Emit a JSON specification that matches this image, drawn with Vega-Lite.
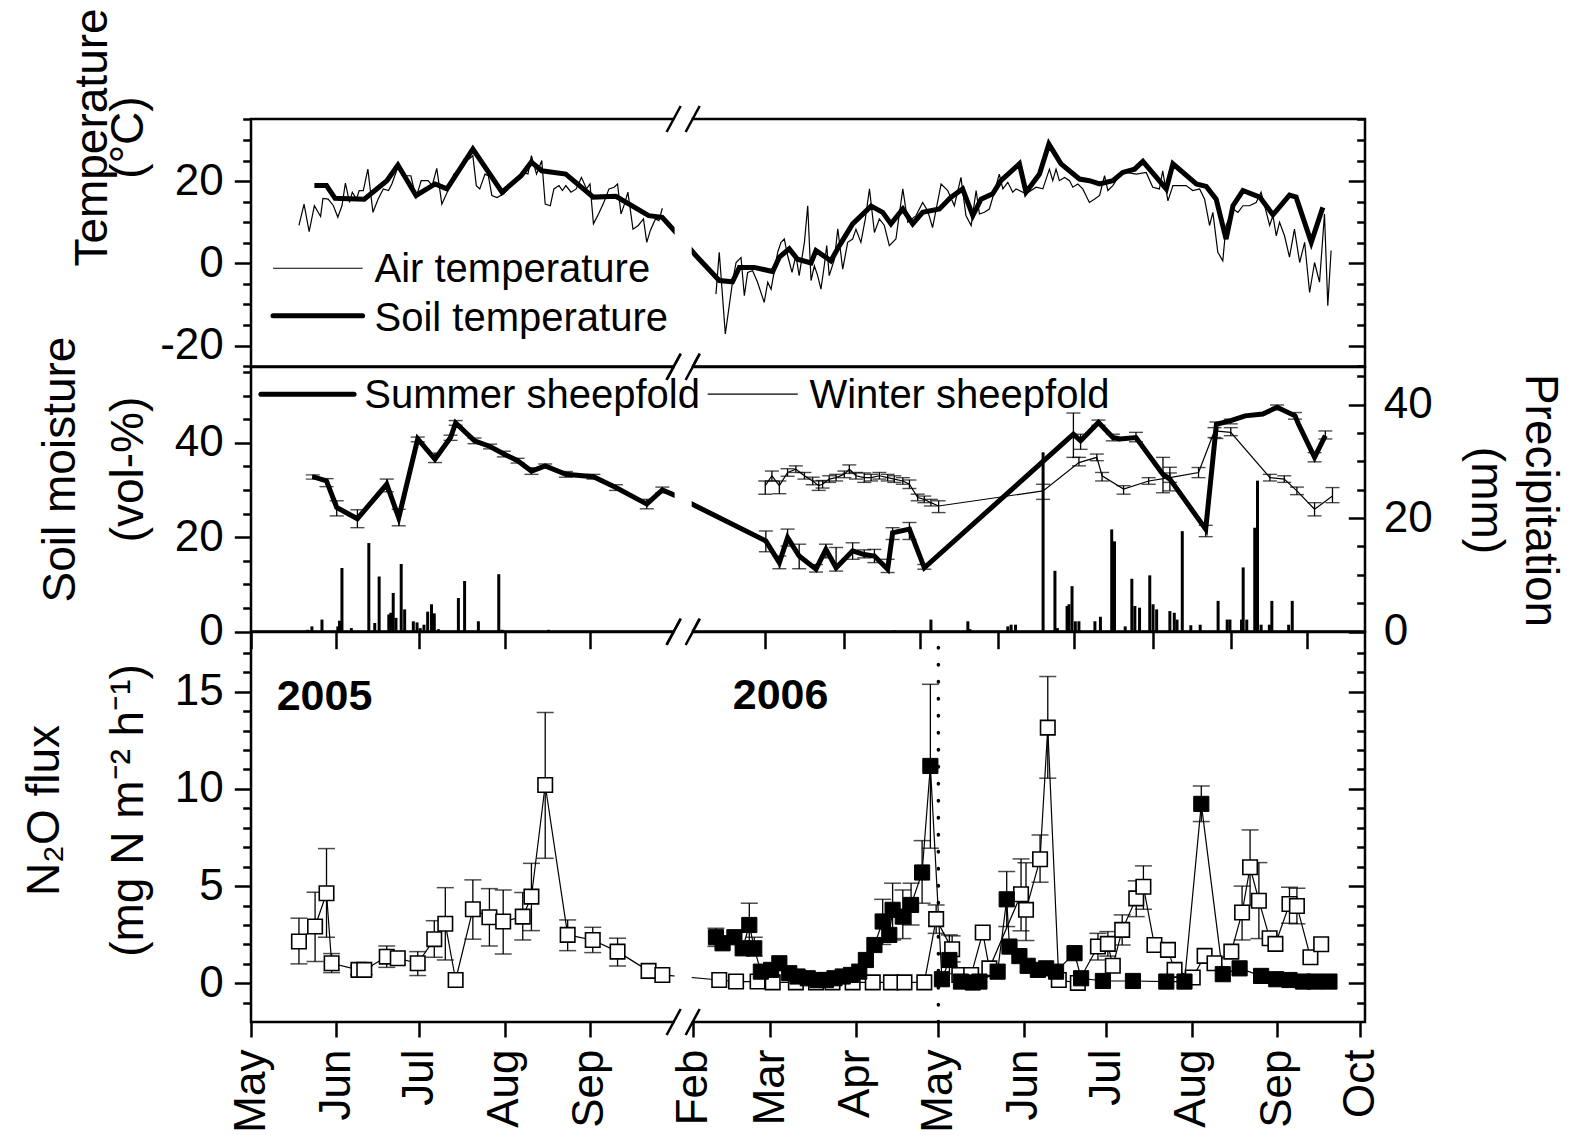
{
"$schema":"https://vega.github.io/schema/vega-lite/v6.json",
"background":"white",
"padding":{"left":20,"top":6,"right":0,"bottom":0},
"autosize":{"type":"pad"},
"bounds":"flush",
"spacing":0,
"config":{"font":"Liberation Sans","view":{"stroke":"black","strokeWidth":2.5},
"axis":{"labelFont":"Liberation Sans","titleFont":"Liberation Sans","labelFontSize":44,"titleFontSize":46,"titleFontWeight":"normal","labelColor":"black","titleColor":"black","tickColor":"black","tickWidth":2.5,"domain":false,"grid":false,"labelOverlap":false,"labelFlush":false}},
"datasets":{
"air":[{"d":17.4,"v":9.2,"yr":2005},{"d":19.25,"v":14.4,"yr":2005},{"d":21.1,"v":7.7,"yr":2005},{"d":23.0,"v":14.0,"yr":2005},{"d":25.25,"v":11.4,"yr":2005},{"d":26.1,"v":15.8,"yr":2005},{"d":28.0,"v":15.6,"yr":2005},{"d":29.9,"v":14.0,"yr":2005},{"d":31.5,"v":11.2,"yr":2005},{"d":33.0,"v":14.0,"yr":2005},{"d":34.25,"v":19.5,"yr":2005},{"d":35.75,"v":14.8,"yr":2005},{"d":36.75,"v":17.3,"yr":2005},{"d":38.25,"v":15.6,"yr":2005},{"d":39.25,"v":17.7,"yr":2005},{"d":40.75,"v":17.7,"yr":2005},{"d":42.4,"v":22.9,"yr":2005},{"d":44.25,"v":12.4,"yr":2005},{"d":46.1,"v":15.6,"yr":2005},{"d":48.0,"v":18.1,"yr":2005},{"d":49.9,"v":17.7,"yr":2005},{"d":51.1,"v":19.3,"yr":2005},{"d":53.25,"v":23.3,"yr":2005},{"d":54.9,"v":21.3,"yr":2005},{"d":58.0,"v":21.3,"yr":2005},{"d":59.9,"v":16.0,"yr":2005},{"d":61.75,"v":20.1,"yr":2005},{"d":64.25,"v":20.1,"yr":2005},{"d":65.75,"v":18.9,"yr":2005},{"d":67.4,"v":23.1,"yr":2005},{"d":69.25,"v":14.4,"yr":2005},{"d":71.75,"v":18.1,"yr":2005},{"d":73.6,"v":21.7,"yr":2005},{"d":75.5,"v":22.1,"yr":2005},{"d":77.4,"v":25.4,"yr":2005},{"d":79.25,"v":25.4,"yr":2005},{"d":80.5,"v":26.2,"yr":2005},{"d":81.75,"v":18.9,"yr":2005},{"d":83.0,"v":18.1,"yr":2005},{"d":84.9,"v":21.7,"yr":2005},{"d":86.1,"v":21.3,"yr":2005},{"d":87.4,"v":16.5,"yr":2005},{"d":89.25,"v":16.0,"yr":2005},{"d":91.75,"v":16.9,"yr":2005},{"d":94.25,"v":18.9,"yr":2005},{"d":96.75,"v":20.9,"yr":2005},{"d":98.6,"v":22.1,"yr":2005},{"d":100.5,"v":21.7,"yr":2005},{"d":101.75,"v":26.2,"yr":2005},{"d":103.6,"v":21.7,"yr":2005},{"d":105.5,"v":25.0,"yr":2005},{"d":106.75,"v":14.4,"yr":2005},{"d":108.6,"v":14.0,"yr":2005},{"d":109.9,"v":18.1,"yr":2005},{"d":111.75,"v":18.9,"yr":2005},{"d":113.0,"v":17.7,"yr":2005},{"d":114.25,"v":18.9,"yr":2005},{"d":116.1,"v":17.3,"yr":2005},{"d":118.0,"v":18.1,"yr":2005},{"d":119.9,"v":20.9,"yr":2005},{"d":121.75,"v":18.1,"yr":2005},{"d":123.0,"v":19.3,"yr":2005},{"d":124.25,"v":9.6,"yr":2005},{"d":126.1,"v":12.0,"yr":2005},{"d":128.0,"v":14.8,"yr":2005},{"d":129.9,"v":18.1,"yr":2005},{"d":131.75,"v":18.5,"yr":2005},{"d":133.0,"v":19.3,"yr":2005},{"d":134.25,"v":12.0,"yr":2005},{"d":135.5,"v":14.4,"yr":2005},{"d":136.75,"v":17.3,"yr":2005},{"d":138.6,"v":8.3,"yr":2005},{"d":140.5,"v":9.2,"yr":2005},{"d":142.4,"v":10.8,"yr":2005},{"d":143.6,"v":5.1,"yr":2005},{"d":144.9,"v":8.0,"yr":2005},{"d":146.75,"v":10.8,"yr":2005},{"d":148.0,"v":10.4,"yr":2005},{"d":149.25,"v":13.4,"yr":2005},
{"d":168.7,"v":-7.5,"yr":2006},{"d":169.9,"v":2.7,"yr":2006},{"d":172.1,"v":-17.2,"yr":2006},{"d":174.7,"v":-4.6,"yr":2006},{"d":176.0,"v":0.2,"yr":2006},{"d":177.8,"v":1.4,"yr":2006},{"d":179.0,"v":-7.9,"yr":2006},{"d":180.2,"v":-2.2,"yr":2006},{"d":182.0,"v":-1.8,"yr":2006},{"d":183.8,"v":-4.6,"yr":2006},{"d":186.2,"v":-9.5,"yr":2006},{"d":187.5,"v":-4.6,"yr":2006},{"d":188.7,"v":-6.3,"yr":2006},{"d":191.1,"v":2.7,"yr":2006},{"d":192.3,"v":5.1,"yr":2006},{"d":193.5,"v":5.9,"yr":2006},{"d":194.7,"v":1.9,"yr":2006},{"d":196.3,"v":-2.2,"yr":2006},{"d":197.7,"v":1.9,"yr":2006},{"d":198.9,"v":-3.0,"yr":2006},{"d":200.8,"v":5.1,"yr":2006},{"d":202.0,"v":14.0,"yr":2006},{"d":203.2,"v":-4.2,"yr":2006},{"d":204.4,"v":-0.6,"yr":2006},{"d":205.6,"v":-3.0,"yr":2006},{"d":206.8,"v":-6.3,"yr":2006},{"d":208.0,"v":-0.6,"yr":2006},{"d":208.9,"v":4.3,"yr":2006},{"d":209.8,"v":-3.0,"yr":2006},{"d":211.7,"v":1.0,"yr":2006},{"d":212.9,"v":8.4,"yr":2006},{"d":214.7,"v":-1.4,"yr":2006},{"d":216.5,"v":5.1,"yr":2006},{"d":218.3,"v":5.9,"yr":2006},{"d":219.5,"v":8.3,"yr":2006},{"d":221.3,"v":5.1,"yr":2006},{"d":222.9,"v":10.8,"yr":2006},{"d":224.4,"v":18.1,"yr":2006},{"d":226.2,"v":7.5,"yr":2006},{"d":228.0,"v":10.8,"yr":2006},{"d":229.8,"v":9.2,"yr":2006},{"d":231.6,"v":4.3,"yr":2006},{"d":234.0,"v":5.9,"yr":2006},{"d":236.5,"v":18.1,"yr":2006},{"d":238.3,"v":10.0,"yr":2006},{"d":241.3,"v":11.6,"yr":2006},{"d":243.7,"v":14.8,"yr":2006},{"d":245.5,"v":12.8,"yr":2006},{"d":247.3,"v":8.7,"yr":2006},{"d":250.4,"v":19.3,"yr":2006},{"d":252.8,"v":17.7,"yr":2006},{"d":255.2,"v":14.0,"yr":2006},{"d":257.6,"v":20.9,"yr":2006},{"d":259.4,"v":11.6,"yr":2006},{"d":261.3,"v":9.2,"yr":2006},{"d":263.1,"v":17.7,"yr":2006},{"d":264.3,"v":12.0,"yr":2006},{"d":266.1,"v":12.4,"yr":2006},{"d":267.9,"v":13.2,"yr":2006},{"d":269.7,"v":17.3,"yr":2006},{"d":271.5,"v":21.7,"yr":2006},{"d":272.8,"v":18.1,"yr":2006},{"d":274.6,"v":19.7,"yr":2006},{"d":276.4,"v":17.3,"yr":2006},{"d":277.6,"v":18.1,"yr":2006},{"d":281.2,"v":16.9,"yr":2006},{"d":284.9,"v":18.5,"yr":2006},{"d":287.3,"v":18.1,"yr":2006},{"d":289.7,"v":22.9,"yr":2006},{"d":290.9,"v":20.1,"yr":2006},{"d":292.1,"v":22.9,"yr":2006},{"d":293.3,"v":20.1,"yr":2006},{"d":295.2,"v":20.9,"yr":2006},{"d":297.0,"v":20.1,"yr":2006},{"d":298.2,"v":18.5,"yr":2006},{"d":300.0,"v":19.3,"yr":2006},{"d":301.8,"v":18.1,"yr":2006},{"d":304.2,"v":14.8,"yr":2006},{"d":306.0,"v":15.6,"yr":2006},{"d":307.9,"v":16.5,"yr":2006},{"d":309.7,"v":21.3,"yr":2006},{"d":310.9,"v":17.7,"yr":2006},{"d":312.7,"v":18.9,"yr":2006},{"d":315.1,"v":21.3,"yr":2006},{"d":317.5,"v":22.1,"yr":2006},{"d":321.2,"v":21.7,"yr":2006},{"d":324.8,"v":22.1,"yr":2006},{"d":327.2,"v":18.5,"yr":2006},{"d":329.6,"v":18.1,"yr":2006},{"d":330.8,"v":22.5,"yr":2006},{"d":332.7,"v":15.2,"yr":2006},{"d":334.5,"v":18.9,"yr":2006},{"d":336.9,"v":18.9,"yr":2006},{"d":339.3,"v":18.9,"yr":2006},{"d":341.7,"v":17.7,"yr":2006},{"d":344.2,"v":18.1,"yr":2006},{"d":346.0,"v":15.6,"yr":2006},{"d":347.8,"v":9.2,"yr":2006},{"d":349.0,"v":12.4,"yr":2006},{"d":350.8,"v":2.7,"yr":2006},{"d":352.6,"v":0.6,"yr":2006},{"d":353.8,"v":9.2,"yr":2006},{"d":356.3,"v":13.2,"yr":2006},{"d":358.1,"v":12.4,"yr":2006},{"d":359.9,"v":14.0,"yr":2006},{"d":362.3,"v":14.0,"yr":2006},{"d":364.7,"v":14.8,"yr":2006},{"d":366.5,"v":17.3,"yr":2006},{"d":368.4,"v":12.4,"yr":2006},{"d":369.6,"v":9.2,"yr":2006},{"d":370.8,"v":11.6,"yr":2006},{"d":372.0,"v":6.7,"yr":2006},{"d":373.2,"v":10.0,"yr":2006},{"d":375.0,"v":6.7,"yr":2006},{"d":376.8,"v":1.5,"yr":2006},{"d":378.6,"v":8.3,"yr":2006},{"d":380.5,"v":0.2,"yr":2006},{"d":382.3,"v":5.1,"yr":2006},{"d":384.1,"v":-7.1,"yr":2006},{"d":385.9,"v":0.2,"yr":2006},{"d":387.7,"v":-4.6,"yr":2006},{"d":389.5,"v":12.0,"yr":2006},{"d":390.7,"v":-10.3,"yr":2006},{"d":391.9,"v":3.1,"yr":2006}],
"soilT":[{"d":23.0,"v":18.9},{"d":27.4,"v":18.9},{"d":30.5,"v":15.8},{"d":41.1,"v":15.6},{"d":49.3,"v":20.1},{"d":53.3,"v":23.9},{"d":59.9,"v":16.5},{"d":66.8,"v":19.3},{"d":71.1,"v":18.1},{"d":80.5,"v":27.8},{"d":91.1,"v":17.3},{"d":98.0,"v":21.3},{"d":101.7,"v":24.6},{"d":105.5,"v":22.5},{"d":114.2,"v":21.7},{"d":124.2,"v":16.1},{"d":132.4,"v":16.3},{"d":144.3,"v":11.6},{"d":149.2,"v":11.2},{"d":154.2,"v":7.5},{"d":161.4,"v":1.9},{"d":169.9,"v":-4.2},{"d":174.7,"v":-4.5},{"d":177.2,"v":-1.0},{"d":182.6,"v":-1.0},{"d":189.3,"v":-2.0},{"d":191.7,"v":1.5},{"d":195.3,"v":3.5},{"d":198.3,"v":1.0},{"d":203.2,"v":0.1},{"d":205.0,"v":3.1},{"d":210.4,"v":0.6},{"d":213.5,"v":4.3},{"d":218.3,"v":9.6},{"d":225.0,"v":13.9},{"d":229.2,"v":12.4},{"d":232.2,"v":9.6},{"d":236.5,"v":13.2},{"d":240.1,"v":9.6},{"d":243.7,"v":12.4},{"d":249.8,"v":13.2},{"d":254.0,"v":16.1},{"d":258.2,"v":18.1},{"d":261.9,"v":11.6},{"d":264.9,"v":15.6},{"d":269.1,"v":16.9},{"d":272.1,"v":20.1},{"d":278.8,"v":24.2},{"d":281.2,"v":17.3},{"d":286.1,"v":21.7},{"d":289.5,"v":29.0},{"d":293.9,"v":24.2},{"d":300.6,"v":20.5},{"d":304.2,"v":20.1},{"d":307.9,"v":19.3},{"d":312.7,"v":20.1},{"d":316.3,"v":22.1},{"d":320.6,"v":22.9},{"d":323.6,"v":24.8},{"d":332.1,"v":18.1},{"d":334.5,"v":24.2},{"d":343.0,"v":19.3},{"d":346.6,"v":18.7},{"d":350.2,"v":15.6},{"d":353.8,"v":5.9},{"d":356.3,"v":14.0},{"d":359.9,"v":17.7},{"d":366.0,"v":16.1},{"d":370.8,"v":11.8},{"d":376.8,"v":16.6},{"d":379.2,"v":16.1},{"d":384.7,"v":5.1},{"d":388.9,"v":13.6}],
"sum":[{"d":22.4,"v":32.8,"lo":32.3,"hi":33.2},{"d":27.4,"v":31.9,"lo":30.7,"hi":32.4},{"d":31.1,"v":26.3,"lo":24.5,"hi":27.7},{"d":38.6,"v":23.9,"lo":22.0,"hi":25.8},{"d":49.25,"v":31.2,"lo":29.6,"hi":32.3},{"d":53.6,"v":24.1,"lo":22.4,"hi":25.9},{"d":60.5,"v":40.8,"lo":40.2,"hi":41.2},{"d":66.75,"v":36.5,"lo":35.8,"hi":37.8},{"d":72.4,"v":41.1,"lo":40.5,"hi":41.6},{"d":74.25,"v":44.2,"lo":43.7,"hi":44.7},{"d":81.1,"v":40.4,"lo":39.8,"hi":41.0},{"d":86.75,"v":39.2,"lo":38.7,"hi":39.7},{"d":91.75,"v":37.6,"lo":37.0,"hi":38.2},{"d":96.75,"v":36.2,"lo":35.7,"hi":36.7},{"d":101.75,"v":34.0,"lo":33.3,"hi":34.7},{"d":106.75,"v":35.1,"lo":34.7,"hi":35.5},{"d":114.25,"v":33.3,"lo":32.7,"hi":33.9},{"d":124.25,"v":32.8,"lo":32.3,"hi":33.3},{"d":132.4,"v":30.5,"lo":29.9,"hi":31.1},{"d":143.6,"v":27.0,"lo":26.0,"hi":28.0},{"d":149.25,"v":30.0,"lo":29.4,"hi":30.6},{"d":153.6,"v":28.9},{"d":161.4,"v":26.6},{"d":186.8,"v":19.2,"lo":16.9,"hi":21.3},{"d":191.7,"v":14.6,"lo":13.3,"hi":16.0},{"d":194.7,"v":19.9,"lo":18.1,"hi":21.7},{"d":198.9,"v":16.0,"lo":13.3,"hi":18.5},{"d":205.0,"v":13.2,"lo":12.6,"hi":14.2},{"d":208.6,"v":17.4,"lo":15.6,"hi":18.5},{"d":212.3,"v":13.5,"lo":12.8,"hi":17.8},{"d":218.3,"v":17.1,"lo":15.3,"hi":18.8},{"d":222.5,"v":16.3,"lo":15.6,"hi":17.3},{"d":226.2,"v":16.0,"lo":14.6,"hi":17.4},{"d":231.0,"v":13.2,"lo":12.5,"hi":15.3},{"d":232.8,"v":20.9,"lo":19.5,"hi":22.0},{"d":238.9,"v":21.7,"lo":19.5,"hi":23.1},{"d":244.3,"v":13.5,"lo":13.2,"hi":14.2},{"d":298.4,"v":41.8,"lo":36.9,"hi":46.3},{"d":301.0,"v":40.4,"lo":38.6,"hi":41.8},{"d":307.5,"v":44.3,"lo":43.7,"hi":44.8},{"d":312.7,"v":41.1,"lo":40.4,"hi":41.8},{"d":315.3,"v":40.8},{"d":321.1,"v":41.1,"lo":40.2,"hi":42.2},{"d":330.9,"v":33.3,"lo":29.4,"hi":36.9},{"d":333.4,"v":32.3,"lo":29.8,"hi":34.8},{"d":346.4,"v":21.7,"lo":20.1,"hi":22.5},{"d":350.3,"v":43.9,"lo":40.9,"hi":44.4},{"d":355.5,"v":44.7,"lo":44.0,"hi":45.0},{"d":360.7,"v":45.7},{"d":367.1,"v":46.1},{"d":372.3,"v":47.5,"lo":47.0,"hi":48.0},{"d":378.8,"v":45.7,"lo":45.0,"hi":46.4},{"d":380.1,"v":43.9},{"d":385.9,"v":36.9,"lo":35.95,"hi":37.9},{"d":389.8,"v":41.5,"lo":40.8,"hi":42.5}],
"win":[{"d":186.6,"v":30.9,"lo":29.1,"hi":31.9},{"d":189.0,"v":33.0,"lo":31.9,"hi":34.0},{"d":191.7,"v":30.9,"lo":29.2,"hi":31.9},{"d":194.7,"v":33.7,"lo":32.9,"hi":34.5},{"d":197.7,"v":34.4,"lo":33.7,"hi":35.1},{"d":200.8,"v":33.0,"lo":32.3,"hi":33.7},{"d":203.8,"v":31.9,"lo":31.1,"hi":32.7},{"d":206.0,"v":30.9,"lo":29.9,"hi":31.9},{"d":207.4,"v":31.2,"lo":30.4,"hi":32.0},{"d":209.8,"v":32.3,"lo":31.6,"hi":33.0},{"d":212.3,"v":32.6,"lo":31.9,"hi":33.3},{"d":215.3,"v":33.3,"lo":32.6,"hi":34.0},{"d":217.1,"v":34.4,"lo":33.5,"hi":35.3},{"d":219.5,"v":33.0,"lo":32.3,"hi":33.7},{"d":222.5,"v":32.6,"lo":31.6,"hi":33.6},{"d":225.0,"v":32.6,"lo":31.9,"hi":33.3},{"d":228.0,"v":33.0,"lo":32.3,"hi":33.7},{"d":231.0,"v":32.6,"lo":31.9,"hi":33.3},{"d":233.4,"v":32.3,"lo":31.6,"hi":33.0},{"d":236.5,"v":31.9,"lo":31.2,"hi":32.6},{"d":238.9,"v":31.2,"lo":30.3,"hi":32.1},{"d":241.9,"v":28.4,"lo":27.7,"hi":29.1},{"d":244.3,"v":28.0,"lo":27.3,"hi":28.7},{"d":246.7,"v":27.3,"lo":26.6,"hi":28.0},{"d":249.5,"v":26.6,"lo":25.2,"hi":27.7},{"d":287.4,"v":29.8,"lo":28.0,"hi":31.2},{"d":300.4,"v":35.8,"lo":35.1,"hi":36.9},{"d":306.9,"v":36.9,"lo":36.2,"hi":37.6},{"d":308.8,"v":33.0,"lo":31.9,"hi":33.7},{"d":316.6,"v":30.2,"lo":29.1,"hi":30.9},{"d":325.7,"v":31.9,"lo":31.2,"hi":32.6},{"d":333.4,"v":32.6,"lo":31.6,"hi":33.6},{"d":343.8,"v":33.7,"lo":32.6,"hi":34.75},{"d":349.6,"v":42.5,"lo":41.1,"hi":43.2},{"d":355.5,"v":42.2,"lo":41.5,"hi":43.2},{"d":369.7,"v":32.6,"lo":31.9,"hi":33.3},{"d":374.9,"v":32.3,"lo":31.6,"hi":33.0},{"d":379.5,"v":29.8,"lo":29.0,"hi":30.6},{"d":385.9,"v":25.9,"lo":24.5,"hi":27.3},{"d":392.4,"v":28.7,"lo":27.3,"hi":30.5}],
"pr":[{"d":20.5,"p":0.3},{"d":22.1,"p":0.9},{"d":25.75,"p":2.1},{"d":31.5,"p":0.9},{"d":32.1,"p":1.9},{"d":33.0,"p":11.2},{"d":36.4,"p":0.6},{"d":42.75,"p":15.6},{"d":44.9,"p":1.5},{"d":46.5,"p":9.7},{"d":50.0,"p":3.0},{"d":50.75,"p":3.3},{"d":51.6,"p":6.8},{"d":52.6,"p":2.4},{"d":54.5,"p":11.9},{"d":55.75,"p":3.9},{"d":58.9,"p":1.8},{"d":60.25,"p":1.6},{"d":61.4,"p":0.6},{"d":62.75,"p":1.2},{"d":64.1,"p":3.5},{"d":65.5,"p":4.8},{"d":66.5,"p":3.2},{"d":68.0,"p":0.4},{"d":75.25,"p":5.9},{"d":77.5,"p":8.9},{"d":82.5,"p":1.8},{"d":89.9,"p":10.1},{"d":91.1,"p":0.3},{"d":108.0,"p":0.3},{"d":233.4,"p":0.2},{"d":246.7,"p":2.1},{"d":260.1,"p":1.8},{"d":260.9,"p":0.4},{"d":274.6,"p":0.9},{"d":275.8,"p":1.2},{"d":277.4,"p":1.2},{"d":287.4,"p":31.6},{"d":291.7,"p":10.7},{"d":292.6,"p":0.6},{"d":296.1,"p":4.5},{"d":296.8,"p":4.8},{"d":297.9,"p":8.0},{"d":299.1,"p":1.8},{"d":300.4,"p":1.8},{"d":306.2,"p":1.8},{"d":308.2,"p":2.6},{"d":312.3,"p":18.0},{"d":313.3,"p":15.9},{"d":317.2,"p":0.9},{"d":319.6,"p":9.3},{"d":320.7,"p":4.5},{"d":322.4,"p":4.2},{"d":326.1,"p":9.9},{"d":327.3,"p":4.8},{"d":328.6,"p":3.9},{"d":333.4,"p":3.6},{"d":335.0,"p":3.3},{"d":336.0,"p":2.1},{"d":337.9,"p":17.7},{"d":341.0,"p":1.1},{"d":344.4,"p":1.2},{"d":350.9,"p":5.4},{"d":354.2,"p":2.1},{"d":355.2,"p":2.1},{"d":359.4,"p":2.1},{"d":360.0,"p":11.3},{"d":361.3,"p":2.1},{"d":364.2,"p":18.3},{"d":365.2,"p":26.6},{"d":366.5,"p":1.2},{"d":369.5,"p":1.2},{"d":370.4,"p":5.4},{"d":376.5,"p":1.2},{"d":377.8,"p":5.4}],
"nOpen":[{"d":17.4,"v":2.15,"lo":1.0,"hi":3.35},{"d":23.25,"v":2.92,"lo":1.12,"hi":4.68},{"d":27.4,"v":4.63,"lo":2.37,"hi":6.93},{"d":29.25,"v":1.03,"lo":0.55,"hi":1.53},{"d":39.0,"v":0.69,"lo":0.45,"hi":0.9},{"d":41.1,"v":0.69,"lo":0.45,"hi":0.9},{"d":49.25,"v":1.37,"lo":0.82,"hi":1.92},{"d":53.25,"v":1.29},{"d":60.5,"v":1.03,"lo":0.4,"hi":1.63},{"d":66.5,"v":2.27,"lo":1.34,"hi":3.22},{"d":70.5,"v":3.06,"lo":1.2,"hi":4.92},{"d":74.25,"v":0.17},{"d":80.5,"v":3.81,"lo":2.27,"hi":5.32},{"d":86.5,"v":3.4,"lo":1.92,"hi":4.87},{"d":91.5,"v":3.18,"lo":1.51,"hi":4.8},{"d":98.6,"v":3.43,"lo":2.23,"hi":4.67},{"d":101.75,"v":4.46,"lo":2.71,"hi":6.17},{"d":106.75,"v":10.2,"lo":6.43,"hi":13.93},{"d":114.9,"v":2.49,"lo":1.68,"hi":3.26},{"d":124.0,"v":2.23,"lo":1.58,"hi":2.88},{"d":133.0,"v":1.63,"lo":0.89,"hi":2.32},{"d":144.25,"v":0.64},{"d":149.25,"v":0.43},{"d":169.9,"v":0.17},{"d":176.0,"v":0.09},{"d":183.8,"v":0.09},{"d":189.3,"v":0.05},{"d":197.7,"v":0.05},{"d":205.0,"v":0.05},{"d":211.0,"v":0.05},{"d":218.3,"v":0.05},{"d":225.6,"v":0.05},{"d":232.2,"v":0.05},{"d":237.1,"v":0.05},{"d":244.3,"v":0.05},{"d":248.6,"v":3.3,"lo":2.57,"hi":4.03},{"d":254.4,"v":1.75,"lo":1.1,"hi":2.44},{"d":257.0,"v":0.43},{"d":261.3,"v":0.43},{"d":265.5,"v":2.61},{"d":267.9,"v":0.77},{"d":279.4,"v":4.58,"lo":2.7,"hi":6.4},{"d":281.2,"v":3.78,"lo":2.2,"hi":6.2},{"d":286.3,"v":6.38,"lo":5.2,"hi":7.63},{"d":289.1,"v":13.15,"lo":10.55,"hi":15.78},{"d":293.1,"v":0.17},{"d":300.0,"v":0.02},{"d":307.3,"v":1.89,"lo":1.2,"hi":2.57},{"d":310.9,"v":2.03,"lo":1.4,"hi":2.66},{"d":312.7,"v":0.9},{"d":316.1,"v":2.75,"lo":1.97,"hi":3.52},{"d":321.2,"v":4.37,"lo":3.43,"hi":5.27},{"d":323.8,"v":4.97,"lo":3.81,"hi":6.04},{"d":327.8,"v":1.97},{"d":332.7,"v":1.72},{"d":335.1,"v":0.69},{"d":341.7,"v":0.3},{"d":346.0,"v":1.41},{"d":349.6,"v":1.03},{"d":355.7,"v":1.63},{"d":359.6,"v":3.64,"lo":2.23,"hi":5.0},{"d":362.5,"v":5.97,"lo":4.0,"hi":7.89},{"d":365.7,"v":4.25,"lo":2.3,"hi":6.21},{"d":369.6,"v":2.32},{"d":371.7,"v":2.03},{"d":376.8,"v":4.08,"lo":3.09,"hi":4.94},{"d":379.5,"v":3.98,"lo":3.06,"hi":4.89},{"d":384.4,"v":1.34},{"d":388.3,"v":2.01}],
"nFilled":[{"d":168.7,"v":2.37,"lo":1.9,"hi":2.83},{"d":171.1,"v":2.06},{"d":175.4,"v":2.37},{"d":178.4,"v":1.8},{"d":180.8,"v":3.0,"lo":1.9,"hi":4.12},{"d":182.6,"v":1.8,"lo":1.4,"hi":2.37},{"d":185.0,"v":0.6},{"d":188.7,"v":0.69},{"d":191.7,"v":1.03},{"d":195.3,"v":0.52},{"d":198.3,"v":0.35},{"d":202.0,"v":0.26},{"d":205.6,"v":0.17},{"d":208.6,"v":0.17},{"d":211.7,"v":0.26},{"d":214.7,"v":0.35},{"d":217.7,"v":0.43},{"d":220.7,"v":0.6},{"d":223.1,"v":1.2},{"d":226.2,"v":1.97},{"d":229.2,"v":3.18,"lo":2.0,"hi":4.32},{"d":231.6,"v":2.49},{"d":232.8,"v":3.78,"lo":2.23,"hi":5.15},{"d":236.5,"v":3.43,"lo":2.3,"hi":4.8},{"d":239.5,"v":4.03,"lo":3.0,"hi":5.15},{"d":243.5,"v":5.7,"lo":4.12,"hi":7.34},{"d":246.5,"v":11.18,"lo":6.95,"hi":15.38},{"d":250.7,"v":0.21},{"d":253.4,"v":1.2,"lo":0.5,"hi":2.49},{"d":257.6,"v":0.09},{"d":261.9,"v":0.04},{"d":264.3,"v":0.09},{"d":270.9,"v":0.6},{"d":274.2,"v":4.32,"lo":2.92,"hi":5.75},{"d":275.2,"v":1.89},{"d":278.8,"v":1.4},{"d":281.8,"v":0.9},{"d":285.5,"v":0.69},{"d":288.5,"v":0.77},{"d":292.1,"v":0.6},{"d":298.8,"v":1.55},{"d":301.2,"v":0.26},{"d":309.1,"v":0.12},{"d":320.0,"v":0.12},{"d":332.1,"v":0.09},{"d":338.7,"v":0.09},{"d":344.8,"v":9.23,"lo":8.32,"hi":10.15},{"d":352.6,"v":0.47},{"d":358.7,"v":0.77},{"d":366.5,"v":0.38},{"d":372.0,"v":0.21},{"d":376.8,"v":0.17},{"d":381.7,"v":0.09},{"d":385.9,"v":0.09},{"d":391.3,"v":0.09}]
},
"vconcat":[
{"width":1114,"height":247.5,
 "layer":[
  {"data":{"name":"air"},"mark":{"type":"line","color":"black","strokeWidth":1.2},
   "encoding":{"x":{"field":"d","type":"quantitative","scale":{"domain":[0,404.2],"nice":false,"padding":0},
     "axis":{"orient":"top","values":[0,31,61,92,123,160.4,188.4,219.4,249.4,280.4,310.4,341.4,372.4,402.4],"labels":false,"tickSize":-16.7,"title":null,"zindex":0}},
    "y":{"field":"v","type":"quantitative","scale":{"domain":[-25.1,35.1],"nice":false},
     "axis":{"orient":"left","values":[-25,-20,-15,-10,-5,0,5,10,15,20,25,30,35],"labelExpr":"datum.value % 20 === 0 ? (datum.value < 0 ? '-' : '') + abs(datum.value) : ''","tickSize":{"condition":{"test":"datum.value % 20 === 0","value":16.7},"value":8.3},"labelPadding":11,"title":["Temperature","(°C)"],"titleX":-134.5,"titleY":18,"titleAlign":"center","titleBaseline":"bottom","titleAngle":270,"titleLineHeight":36,"zindex":0}},
    "detail":{"field":"yr","type":"nominal"}}},
  {"data":{"name":"soilT"},"mark":{"type":"line","color":"black","strokeWidth":5},
   "encoding":{"x":{"field":"d","type":"quantitative","scale":{"domain":[0,404.2],"nice":false,"padding":0},"axis":null},
    "y":{"field":"v","type":"quantitative","scale":{"domain":[-25.1,35.1],"nice":false},
     "axis":{"orient":"right","values":[-25,-20,-15,-10,-5,0,5,10,15,20,25,30,35],"labels":false,"tickSize":{"condition":{"test":"datum.value % 20 === 0","value":-16.7},"value":-8.3},"title":null,"zindex":0}}}},
  {"data":{"values":[{}]},"mark":{"type":"rect","color":"white"},"encoding":{"x":{"datum":153.7,"type":"quantitative","scale":{"domain":[0,404.2],"nice":false,"padding":0},"axis":null},"x2":{"datum":159.9},"y":{"datum":-26,"type":"quantitative","scale":{"domain":[-25.1,35.1],"nice":false},"axis":null},"y2":{"datum":36}}},
  {"data":{"values":[{}]},"mark":{"type":"rule","color":"black","strokeWidth":2.5},"encoding":{"x":{"datum":150.8,"type":"quantitative","scale":{"domain":[0,404.2],"nice":false,"padding":0},"axis":null},"x2":{"datum":155.9},"y":{"datum":31.94,"type":"quantitative","scale":{"domain":[-25.1,35.1],"nice":false},"axis":null},"y2":{"datum":38.26}}},
  {"data":{"values":[{}]},"mark":{"type":"rule","color":"black","strokeWidth":2.5},"encoding":{"x":{"datum":157.7,"type":"quantitative","scale":{"domain":[0,404.2],"nice":false,"padding":0},"axis":null},"x2":{"datum":162.8},"y":{"datum":31.94,"type":"quantitative","scale":{"domain":[-25.1,35.1],"nice":false},"axis":null},"y2":{"datum":38.26}}},
  {"data":{"values":[{}]},"mark":{"type":"rule","color":"black","strokeWidth":2.5},"encoding":{"x":{"datum":150.8,"type":"quantitative","scale":{"domain":[0,404.2],"nice":false,"padding":0},"axis":null},"x2":{"datum":155.9},"y":{"datum":-28.26,"type":"quantitative","scale":{"domain":[-25.1,35.1],"nice":false},"axis":null},"y2":{"datum":-21.94}}},
  {"data":{"values":[{}]},"mark":{"type":"rule","color":"black","strokeWidth":2.5},"encoding":{"x":{"datum":157.7,"type":"quantitative","scale":{"domain":[0,404.2],"nice":false,"padding":0},"axis":null},"x2":{"datum":162.8},"y":{"datum":-28.26,"type":"quantitative","scale":{"domain":[-25.1,35.1],"nice":false},"axis":null},"y2":{"datum":-21.94}}},
  {"data":{"values":[{}]},"mark":{"type":"rule","color":"black","strokeWidth":1.2},"encoding":{"x":{"datum":8.0,"type":"quantitative","scale":{"domain":[0,404.2],"nice":false,"padding":0},"axis":null},"x2":{"datum":40.5},"y":{"datum":-1.2,"type":"quantitative","scale":{"domain":[-25.1,35.1],"nice":false},"axis":null}}},
  {"data":{"values":[{}]},"mark":{"type":"rule","color":"black","strokeWidth":5,"strokeCap":"round"},"encoding":{"x":{"datum":8.0,"type":"quantitative","scale":{"domain":[0,404.2],"nice":false,"padding":0},"axis":null},"x2":{"datum":40.5},"y":{"datum":-12.75,"type":"quantitative","scale":{"domain":[-25.1,35.1],"nice":false},"axis":null}}},
  {"data":{"values":[{}]},"mark":{"type":"text","text":"Air temperature","align":"left","baseline":"middle","fontSize":40,"color":"black"},"encoding":{"x":{"datum":44.8,"type":"quantitative","scale":{"domain":[0,404.2],"nice":false,"padding":0},"axis":null},"y":{"datum":-1.6,"type":"quantitative","scale":{"domain":[-25.1,35.1],"nice":false},"axis":null}}},
  {"data":{"values":[{}]},"mark":{"type":"text","text":"Soil temperature","align":"left","baseline":"middle","fontSize":40,"color":"black"},"encoding":{"x":{"datum":44.8,"type":"quantitative","scale":{"domain":[0,404.2],"nice":false,"padding":0},"axis":null},"y":{"datum":-13.6,"type":"quantitative","scale":{"domain":[-25.1,35.1],"nice":false},"axis":null}}}
 ],
 "resolve":{"axis":{"y":"independent"}}
},
{"width":1114,"height":264.5,
 "layer":[
  {"data":{"name":"pr"},"mark":{"type":"bar","color":"black","width":3},
   "encoding":{"x":{"field":"d","type":"quantitative","scale":{"domain":[0,404.2],"nice":false,"padding":0},"axis":null},
    "y":{"field":"p","type":"quantitative","scale":{"domain":[0,46.64],"nice":false},
     "axis":{"orient":"right","values":[0,5,10,15,20,25,30,35,40,45],"labelExpr":"datum.value % 20 === 0 ? '' + datum.value : ''","tickSize":{"condition":{"test":"datum.value % 20 === 0","value":-16.7},"value":-8.3},"labelPadding":35,"labelAlign":"left","title":["Precipitation","(mm)"],"titleX":150,"titleY":133,"titleAlign":"center","titleBaseline":"bottom","titleAngle":90,"titleLineHeight":54,"zindex":0}}}},
  {"data":{"name":"sum"},"mark":{"type":"line","color":"black","strokeWidth":5},
   "encoding":{"x":{"field":"d","type":"quantitative","scale":{"domain":[0,404.2],"nice":false,"padding":0},
     "axis":{"orient":"top","values":[0,31,61,92,123,160.4,188.4,219.4,249.4,280.4,310.4,341.4,372.4,402.4],"labels":false,"tickSize":-16.7,"title":null,"zindex":0}},
    "y":{"field":"v","type":"quantitative","scale":{"domain":[0,56.05],"nice":false},
     "axis":{"orient":"left","values":[0,5,10,15,20,25,30,35,40,45,50,55],"labelExpr":"datum.value % 20 === 0 ? '' + datum.value : ''","tickSize":{"condition":{"test":"datum.value % 20 === 0","value":16.7},"value":8.3},"labelPadding":11,"title":["Soil moisture","(vol-%)"],"titleX":-166.5,"titleY":102,"titleAlign":"center","titleBaseline":"bottom","titleAngle":270,"titleLineHeight":68,"zindex":0}}}},
  {"data":{"name":"win"},"mark":{"type":"line","color":"black","strokeWidth":1.2},
   "encoding":{"x":{"field":"d","type":"quantitative","scale":{"domain":[0,404.2],"nice":false,"padding":0},"axis":null},"y":{"field":"v","type":"quantitative","scale":{"domain":[0,56.05],"nice":false},"axis":null}}},
  {"data":{"name":"sum"},"mark":{"type":"rule","color":"black","strokeWidth":1.3},
   "encoding":{"x":{"field":"d","type":"quantitative","scale":{"domain":[0,404.2],"nice":false,"padding":0},"axis":null},"y":{"field":"lo","type":"quantitative","scale":{"domain":[0,56.05],"nice":false},"axis":null},"y2":{"field":"hi"}}},
  {"data":{"name":"sum"},"mark":{"type":"tick","orient":"horizontal","color":"black","size":14,"thickness":1.4},
   "encoding":{"x":{"field":"d","type":"quantitative","scale":{"domain":[0,404.2],"nice":false,"padding":0},"axis":null},"y":{"field":"lo","type":"quantitative","scale":{"domain":[0,56.05],"nice":false},"axis":null}}},
  {"data":{"name":"sum"},"mark":{"type":"tick","orient":"horizontal","color":"black","size":14,"thickness":1.4},
   "encoding":{"x":{"field":"d","type":"quantitative","scale":{"domain":[0,404.2],"nice":false,"padding":0},"axis":null},"y":{"field":"hi","type":"quantitative","scale":{"domain":[0,56.05],"nice":false},"axis":null}}},
  {"data":{"name":"win"},"mark":{"type":"rule","color":"black","strokeWidth":1.3},
   "encoding":{"x":{"field":"d","type":"quantitative","scale":{"domain":[0,404.2],"nice":false,"padding":0},"axis":null},"y":{"field":"lo","type":"quantitative","scale":{"domain":[0,56.05],"nice":false},"axis":null},"y2":{"field":"hi"}}},
  {"data":{"name":"win"},"mark":{"type":"tick","orient":"horizontal","color":"black","size":14,"thickness":1.4},
   "encoding":{"x":{"field":"d","type":"quantitative","scale":{"domain":[0,404.2],"nice":false,"padding":0},"axis":null},"y":{"field":"lo","type":"quantitative","scale":{"domain":[0,56.05],"nice":false},"axis":null}}},
  {"data":{"name":"win"},"mark":{"type":"tick","orient":"horizontal","color":"black","size":14,"thickness":1.4},
   "encoding":{"x":{"field":"d","type":"quantitative","scale":{"domain":[0,404.2],"nice":false,"padding":0},"axis":null},"y":{"field":"hi","type":"quantitative","scale":{"domain":[0,56.05],"nice":false},"axis":null}}},
  {"data":{"values":[{}]},"mark":{"type":"rect","color":"white"},"encoding":{"x":{"datum":153.7,"type":"quantitative","scale":{"domain":[0,404.2],"nice":false,"padding":0},"axis":null},"x2":{"datum":159.9},"y":{"datum":-0.8,"type":"quantitative","scale":{"domain":[0,56.05],"nice":false},"axis":null},"y2":{"datum":56.85}}},
  {"data":{"values":[{}]},"mark":{"type":"rule","color":"black","strokeWidth":2.5},"encoding":{"x":{"datum":150.8,"type":"quantitative","scale":{"domain":[0,404.2],"nice":false,"padding":0},"axis":null},"x2":{"datum":155.9},"y":{"datum":53.29,"type":"quantitative","scale":{"domain":[0,56.05],"nice":false},"axis":null},"y2":{"datum":58.81}}},
  {"data":{"values":[{}]},"mark":{"type":"rule","color":"black","strokeWidth":2.5},"encoding":{"x":{"datum":157.7,"type":"quantitative","scale":{"domain":[0,404.2],"nice":false,"padding":0},"axis":null},"x2":{"datum":162.8},"y":{"datum":53.29,"type":"quantitative","scale":{"domain":[0,56.05],"nice":false},"axis":null},"y2":{"datum":58.81}}},
  {"data":{"values":[{}]},"mark":{"type":"rule","color":"black","strokeWidth":2.5},"encoding":{"x":{"datum":150.8,"type":"quantitative","scale":{"domain":[0,404.2],"nice":false,"padding":0},"axis":null},"x2":{"datum":155.9},"y":{"datum":-2.76,"type":"quantitative","scale":{"domain":[0,56.05],"nice":false},"axis":null},"y2":{"datum":2.76}}},
  {"data":{"values":[{}]},"mark":{"type":"rule","color":"black","strokeWidth":2.5},"encoding":{"x":{"datum":157.7,"type":"quantitative","scale":{"domain":[0,404.2],"nice":false,"padding":0},"axis":null},"x2":{"datum":162.8},"y":{"datum":-2.76,"type":"quantitative","scale":{"domain":[0,56.05],"nice":false},"axis":null},"y2":{"datum":2.76}}},
  {"data":{"values":[{}]},"mark":{"type":"rule","color":"black","strokeWidth":5,"strokeCap":"round"},"encoding":{"x":{"datum":3.6,"type":"quantitative","scale":{"domain":[0,404.2],"nice":false,"padding":0},"axis":null},"x2":{"datum":37.4},"y":{"datum":50.3,"type":"quantitative","scale":{"domain":[0,56.05],"nice":false},"axis":null}}},
  {"data":{"values":[{}]},"mark":{"type":"text","text":"Summer sheepfold","align":"left","baseline":"middle","fontSize":40,"color":"black"},"encoding":{"x":{"datum":41.1,"type":"quantitative","scale":{"domain":[0,404.2],"nice":false,"padding":0},"axis":null},"y":{"datum":50.0,"type":"quantitative","scale":{"domain":[0,56.05],"nice":false},"axis":null}}},
  {"data":{"values":[{}]},"mark":{"type":"rule","color":"black","strokeWidth":1.2},"encoding":{"x":{"datum":165.7,"type":"quantitative","scale":{"domain":[0,404.2],"nice":false,"padding":0},"axis":null},"x2":{"datum":198.4},"y":{"datum":50.3,"type":"quantitative","scale":{"domain":[0,56.05],"nice":false},"axis":null}}},
  {"data":{"values":[{}]},"mark":{"type":"text","text":"Winter sheepfold","align":"left","baseline":"middle","fontSize":40,"color":"black"},"encoding":{"x":{"datum":202.6,"type":"quantitative","scale":{"domain":[0,404.2],"nice":false,"padding":0},"axis":null},"y":{"datum":50.0,"type":"quantitative","scale":{"domain":[0,56.05],"nice":false},"axis":null}}}
 ],
 "resolve":{"scale":{"y":"independent"},"axis":{"y":"independent"}}
},
{"width":1114,"height":390,
 "layer":[
  {"data":{"values":[{}]},"mark":{"type":"rule","color":"black","strokeWidth":3.5,"strokeDash":[0.5,16.5],"strokeCap":"round"},"encoding":{"x":{"datum":249.4,"type":"quantitative","scale":{"domain":[0,404.2],"nice":false,"padding":0},"axis":null},"y":{"datum":-1.99,"type":"quantitative","scale":{"domain":[-1.99,18.07],"nice":false},"axis":null},"y2":{"datum":18.07}}},
  {"data":{"name":"nOpen"},"mark":{"type":"line","color":"black","strokeWidth":1.2},
   "encoding":{"x":{"field":"d","type":"quantitative","scale":{"domain":[0,404.2],"nice":false,"padding":0},
     "axis":{"orient":"bottom","values":[0,31,61,92,123,160.4,188.4,219.4,249.4,280.4,310.4,341.4,372.4,402.4],"labelExpr":"datum.value < 15 ? 'May' : datum.value < 45 ? 'Jun' : datum.value < 75 ? 'Jul' : datum.value < 105 ? 'Aug' : datum.value < 140 ? 'Sep' : datum.value < 175 ? 'Feb' : datum.value < 205 ? 'Mar' : datum.value < 235 ? 'Apr' : datum.value < 265 ? 'May' : datum.value < 295 ? 'Jun' : datum.value < 325 ? 'Jul' : datum.value < 355 ? 'Aug' : datum.value < 390 ? 'Sep' : 'Oct'","labelAngle":270,"labelAlign":"right","labelBaseline":"middle","labelPadding":12,"tickSize":15,"title":null,"zindex":0}},
    "y":{"field":"v","type":"quantitative","scale":{"domain":[-1.99,18.07],"nice":false},
     "axis":{"orient":"left","values":[-1,0,1,2,3,4,5,6,7,8,9,10,11,12,13,14,15,16,17],"labelExpr":"datum.value % 5 === 0 ? '' + datum.value : ''","tickSize":{"condition":{"test":"datum.value % 5 === 0","value":16.7},"value":8.3},"labelPadding":11,"title":["N₂O flux","(mg N m⁻² h⁻¹)"],"titleX":-182.5,"titleY":178,"titleAlign":"center","titleBaseline":"bottom","titleAngle":270,"titleLineHeight":84,"zindex":0}}}},
  {"data":{"name":"nFilled"},"mark":{"type":"line","color":"black","strokeWidth":1.2},
   "encoding":{"x":{"field":"d","type":"quantitative","scale":{"domain":[0,404.2],"nice":false,"padding":0},
     "axis":{"orient":"top","values":[0,31,61,92,123,186.6,215.3,242.8,270.9,298.7,327.2,355.5,383.3],"labels":false,"tickSize":-16.7,"title":null,"zindex":0}},
    "y":{"field":"v","type":"quantitative","scale":{"domain":[-1.99,18.07],"nice":false},
     "axis":{"orient":"right","values":[-1,0,1,2,3,4,5,6,7,8,9,10,11,12,13,14,15,16,17],"labels":false,"tickSize":{"condition":{"test":"datum.value % 5 === 0","value":-16.7},"value":-8.3},"title":null,"zindex":0}}}},
  {"data":{"name":"nOpen"},"mark":{"type":"rule","color":"black","strokeWidth":1.3},
   "encoding":{"x":{"field":"d","type":"quantitative","scale":{"domain":[0,404.2],"nice":false,"padding":0},"axis":null},"y":{"field":"lo","type":"quantitative","scale":{"domain":[-1.99,18.07],"nice":false},"axis":null},"y2":{"field":"hi"}}},
  {"data":{"name":"nOpen"},"mark":{"type":"tick","orient":"horizontal","color":"black","size":17,"thickness":1.5},
   "encoding":{"x":{"field":"d","type":"quantitative","scale":{"domain":[0,404.2],"nice":false,"padding":0},"axis":null},"y":{"field":"lo","type":"quantitative","scale":{"domain":[-1.99,18.07],"nice":false},"axis":null}}},
  {"data":{"name":"nOpen"},"mark":{"type":"tick","orient":"horizontal","color":"black","size":17,"thickness":1.5},
   "encoding":{"x":{"field":"d","type":"quantitative","scale":{"domain":[0,404.2],"nice":false,"padding":0},"axis":null},"y":{"field":"hi","type":"quantitative","scale":{"domain":[-1.99,18.07],"nice":false},"axis":null}}},
  {"data":{"name":"nFilled"},"mark":{"type":"rule","color":"black","strokeWidth":1.3},
   "encoding":{"x":{"field":"d","type":"quantitative","scale":{"domain":[0,404.2],"nice":false,"padding":0},"axis":null},"y":{"field":"lo","type":"quantitative","scale":{"domain":[-1.99,18.07],"nice":false},"axis":null},"y2":{"field":"hi"}}},
  {"data":{"name":"nFilled"},"mark":{"type":"tick","orient":"horizontal","color":"black","size":17,"thickness":1.5},
   "encoding":{"x":{"field":"d","type":"quantitative","scale":{"domain":[0,404.2],"nice":false,"padding":0},"axis":null},"y":{"field":"lo","type":"quantitative","scale":{"domain":[-1.99,18.07],"nice":false},"axis":null}}},
  {"data":{"name":"nFilled"},"mark":{"type":"tick","orient":"horizontal","color":"black","size":17,"thickness":1.5},
   "encoding":{"x":{"field":"d","type":"quantitative","scale":{"domain":[0,404.2],"nice":false,"padding":0},"axis":null},"y":{"field":"hi","type":"quantitative","scale":{"domain":[-1.99,18.07],"nice":false},"axis":null}}},
  {"data":{"name":"nOpen"},"mark":{"type":"point","shape":"square","filled":false,"fill":"white","fillOpacity":1,"stroke":"black","strokeWidth":1.6,"size":210,"opacity":1},
   "encoding":{"x":{"field":"d","type":"quantitative","scale":{"domain":[0,404.2],"nice":false,"padding":0},"axis":null},"y":{"field":"v","type":"quantitative","scale":{"domain":[-1.99,18.07],"nice":false},"axis":null}}},
  {"data":{"name":"nFilled"},"mark":{"type":"point","shape":"square","filled":true,"fill":"black","stroke":"black","strokeWidth":1,"size":230,"opacity":1},
   "encoding":{"x":{"field":"d","type":"quantitative","scale":{"domain":[0,404.2],"nice":false,"padding":0},"axis":null},"y":{"field":"v","type":"quantitative","scale":{"domain":[-1.99,18.07],"nice":false},"axis":null}}},
  {"data":{"values":[{}]},"mark":{"type":"rect","color":"white"},"encoding":{"x":{"datum":153.7,"type":"quantitative","scale":{"domain":[0,404.2],"nice":false,"padding":0},"axis":null},"x2":{"datum":159.9},"y":{"datum":-2.15,"type":"quantitative","scale":{"domain":[-1.99,18.07],"nice":false},"axis":null},"y2":{"datum":18.23}}},
  {"data":{"values":[{}]},"mark":{"type":"rule","color":"black","strokeWidth":2.5},"encoding":{"x":{"datum":150.8,"type":"quantitative","scale":{"domain":[0,404.2],"nice":false,"padding":0},"axis":null},"x2":{"datum":155.9},"y":{"datum":17.4,"type":"quantitative","scale":{"domain":[-1.99,18.07],"nice":false},"axis":null},"y2":{"datum":18.74}}},
  {"data":{"values":[{}]},"mark":{"type":"rule","color":"black","strokeWidth":2.5},"encoding":{"x":{"datum":157.7,"type":"quantitative","scale":{"domain":[0,404.2],"nice":false,"padding":0},"axis":null},"x2":{"datum":162.8},"y":{"datum":17.4,"type":"quantitative","scale":{"domain":[-1.99,18.07],"nice":false},"axis":null},"y2":{"datum":18.74}}},
  {"data":{"values":[{}]},"mark":{"type":"rule","color":"black","strokeWidth":2.5},"encoding":{"x":{"datum":150.8,"type":"quantitative","scale":{"domain":[0,404.2],"nice":false,"padding":0},"axis":null},"x2":{"datum":155.9},"y":{"datum":-2.66,"type":"quantitative","scale":{"domain":[-1.99,18.07],"nice":false},"axis":null},"y2":{"datum":-1.32}}},
  {"data":{"values":[{}]},"mark":{"type":"rule","color":"black","strokeWidth":2.5},"encoding":{"x":{"datum":157.7,"type":"quantitative","scale":{"domain":[0,404.2],"nice":false,"padding":0},"axis":null},"x2":{"datum":162.8},"y":{"datum":-2.66,"type":"quantitative","scale":{"domain":[-1.99,18.07],"nice":false},"axis":null},"y2":{"datum":-1.32}}},
  {"data":{"values":[{}]},"mark":{"type":"text","text":"2005","align":"left","baseline":"middle","fontSize":43,"fontWeight":"bold","color":"black"},"encoding":{"x":{"datum":9.3,"type":"quantitative","scale":{"domain":[0,404.2],"nice":false,"padding":0},"axis":null},"y":{"datum":14.74,"type":"quantitative","scale":{"domain":[-1.99,18.07],"nice":false},"axis":null}}},
  {"data":{"values":[{}]},"mark":{"type":"text","text":"2006","align":"left","baseline":"middle","fontSize":43,"fontWeight":"bold","color":"black"},"encoding":{"x":{"datum":174.8,"type":"quantitative","scale":{"domain":[0,404.2],"nice":false,"padding":0},"axis":null},"y":{"datum":14.79,"type":"quantitative","scale":{"domain":[-1.99,18.07],"nice":false},"axis":null}}}
 ],
 "resolve":{"axis":{"x":"independent","y":"independent"}}
}
]
}
